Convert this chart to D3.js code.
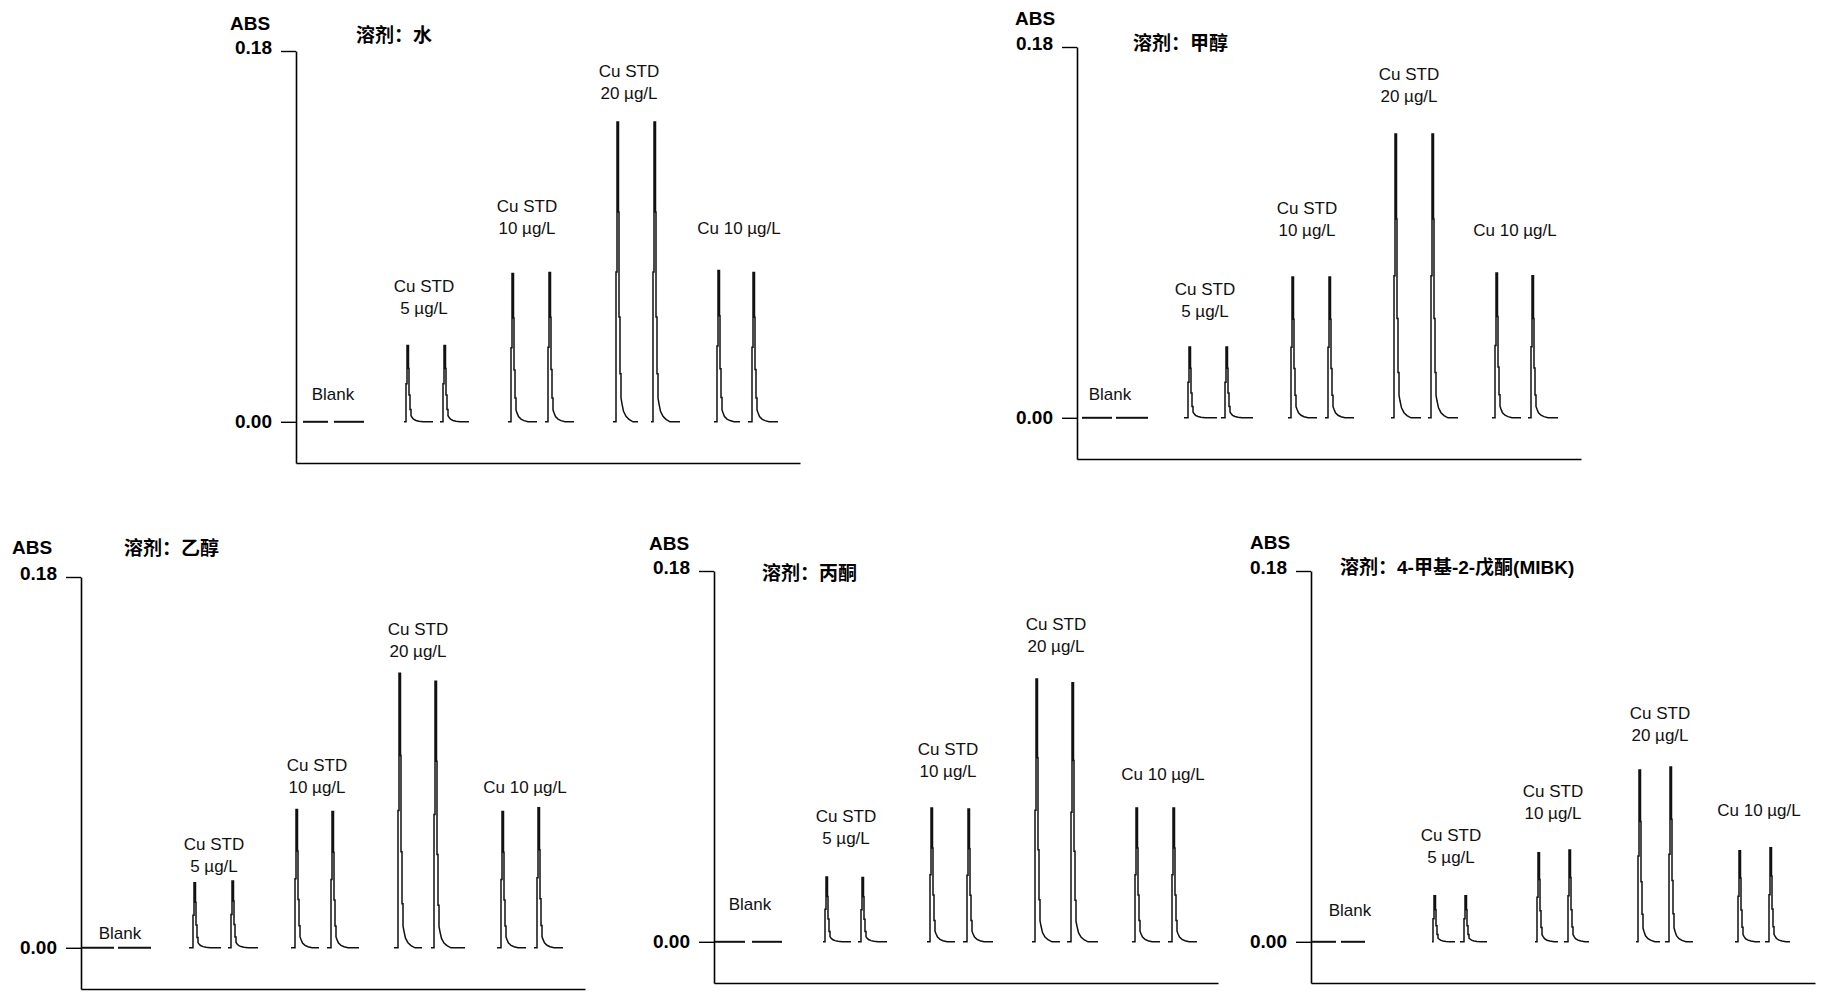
<!DOCTYPE html>
<html>
<head>
<meta charset="utf-8">
<script src="https://cdn.jsdelivr.net/npm/d3@7"></script>
<style>
  html, body { margin: 0; padding: 0; background: #fff; }
  svg { display: block; }
  .tick text { font-family: "Liberation Sans", Arial, sans-serif; font-weight: bold; font-size: 19px; fill: #000; }
</style>
</head>
<body>
<svg id="chart" width="1833" height="997"></svg>
<script>
// ---------------- DATA ----------------
const yTicks = [0, 0.18];
const solventTitles = ["溶剂：水", "溶剂：甲醇", "溶剂：乙醇", "溶剂：丙酮", "溶剂：4-甲基-2-戊酮(MIBK)"];
const sampleLabels = [["Blank"], ["Cu STD", "5 µg/L"], ["Cu STD", "10 µg/L"], ["Cu STD", "20 µg/L"], ["Cu 10 µg/L"]];

// time axis of each trace (s)
const timeDomain = [0, 50.4];

// Peak profile shape: [time after signal rise (s), fraction of peak height]
const peakProfile = [[0,0],[0,0.5],[0.1,0.5],[0.1,1],[0.25,1],[0.25,0.7],[0.3,0.7],[0.3,0.35],[0.4,0.35],[0.4,0.16],[0.5,0.16],[0.5,0.08],[0.6,0.06],[0.75,0.035],[1.0,0.018],[1.3,0.008],[1.7,0]];

// Water
const waterBlank = [[0.7, 3.2], [3.8, 6.8]];
const waterStart = [10.8, 14.4, 21.2, 24.9, 31.7, 35.5, 41.8, 45.2];
const waterRise  = [11.0, 14.7, 21.5, 25.2, 32.0, 35.7, 42.1, 45.6];
const waterEnd   = [13.7, 17.3, 24.1, 27.8, 34.2, 38.4, 44.4, 48.2];
const waterAbs   = [0.0370, 0.0370, 0.0720, 0.0725, 0.1455, 0.1455, 0.0735, 0.0725];
const waterLabelT = [3.7, 12.8, 23.1, 33.3, 44.3];
const waterLabelA = [0.0136, 0.0553, 0.0941, 0.1596, 0.0941];

// Methanol
const methanolBlank = [[0.5, 3.5], [3.9, 7.1]];
const methanolStart = [10.7, 14.4, 21.1, 24.8, 31.4, 35.1, 41.5, 45.1];
const methanolRise  = [11.1, 14.8, 21.4, 25.1, 31.7, 35.4, 41.8, 45.4];
const methanolEnd   = [14.0, 17.6, 24.0, 27.7, 34.4, 38.1, 44.4, 48.1];
const methanolAbs   = [0.0344, 0.0344, 0.0684, 0.0684, 0.1378, 0.1378, 0.0703, 0.0689];
const methanolLabelT = [3.3, 12.8, 23.0, 33.2, 43.8];
const methanolLabelA = [0.0116, 0.0519, 0.0912, 0.1562, 0.0912];

// Ethanol
const ethanolBlank = [[0.0, 3.3], [3.7, 7.0]];
const ethanolStart = [10.8, 14.7, 21.0, 24.6, 31.3, 35.0, 41.6, 45.3];
const ethanolRise  = [11.2, 15.0, 21.4, 25.0, 31.7, 35.3, 42.0, 45.6];
const ethanolEnd   = [14.0, 17.7, 23.8, 27.8, 34.1, 38.4, 44.5, 48.2];
const ethanolAbs   = [0.0316, 0.0324, 0.0671, 0.0662, 0.1333, 0.1294, 0.0662, 0.0680];
const ethanolLabelT = [3.9, 13.3, 23.6, 33.7, 44.4];
const ethanolLabelA = [0.0073, 0.0398, 0.0781, 0.1441, 0.0781];

// Acetone
const acetoneBlank = [[0.1, 3.1], [3.8, 6.8]];
const acetoneStart = [10.9, 14.4, 21.3, 24.9, 31.8, 35.3, 41.8, 45.4];
const acetoneRise  = [11.1, 14.7, 21.6, 25.3, 32.1, 35.7, 42.1, 45.8];
const acetoneEnd   = [13.7, 17.3, 24.1, 27.9, 34.6, 38.4, 44.6, 48.3];
const acetoneAbs   = [0.0315, 0.0312, 0.0650, 0.0645, 0.1276, 0.1257, 0.0650, 0.0650];
const acetoneLabelT = [3.6, 13.2, 23.4, 34.2, 44.9];
const acetoneLabelA = [0.0184, 0.0505, 0.0830, 0.1436, 0.0815];

// MIBK
const mibkBlank = [[0.0, 2.5], [3.0, 5.4]];
const mibkStart = [12.1, 14.9, 22.4, 25.3, 32.5, 35.4, 42.4, 45.4];
const mibkRise  = [12.2, 15.3, 22.6, 25.7, 32.7, 35.8, 42.7, 45.8];
const mibkEnd   = [14.4, 17.6, 24.7, 27.8, 34.9, 38.2, 44.9, 47.9];
const mibkAbs   = [0.0223, 0.0223, 0.0432, 0.0446, 0.0834, 0.0849, 0.0442, 0.0456];
const mibkLabelT = [3.9, 14.0, 24.2, 34.9, 44.8];
const mibkLabelA = [0.0155, 0.0412, 0.0626, 0.1004, 0.0640];

const series = [
  {blank: waterBlank, start: waterStart, rise: waterRise, end: waterEnd, abs: waterAbs, lt: waterLabelT, la: waterLabelA},
  {blank: methanolBlank, start: methanolStart, rise: methanolRise, end: methanolEnd, abs: methanolAbs, lt: methanolLabelT, la: methanolLabelA},
  {blank: ethanolBlank, start: ethanolStart, rise: ethanolRise, end: ethanolEnd, abs: ethanolAbs, lt: ethanolLabelT, la: ethanolLabelA},
  {blank: acetoneBlank, start: acetoneStart, rise: acetoneRise, end: acetoneEnd, abs: acetoneAbs, lt: acetoneLabelT, la: acetoneLabelA},
  {blank: mibkBlank, start: mibkStart, rise: mibkRise, end: mibkEnd, abs: mibkAbs, lt: mibkLabelT, la: mibkLabelA}
];

// ---------------- LAYOUT ----------------
const layout = [
  {ox: 296,  top: 51,  absX: 230,  absY: 23,  titleX: 356,  titleY: 35},
  {ox: 1077, top: 47,  absX: 1015, absY: 18,  titleX: 1133, titleY: 43},
  {ox: 81,   top: 577, absX: 12,   absY: 547, titleX: 124,  titleY: 548},
  {ox: 714,  top: 571, absX: 649,  absY: 543, titleX: 762,  titleY: 573},
  {ox: 1311, top: 571, absX: 1250, absY: 542, titleX: 1340, titleY: 567}
];
const axisWidth = 504;
const axisHeight = 412;   // from -0.02 to 0.18

const svg = d3.select("#chart");

series.forEach((s, i) => {
  const L = layout[i];
  const x = d3.scaleLinear().domain(timeDomain).range([L.ox, L.ox + axisWidth]);
  const y = d3.scaleLinear().domain([-0.02, 0.18]).range([L.top + axisHeight, L.top]);
  const g = svg.append("g");

  // y axis
  const ya = g.append("g")
    .attr("transform", `translate(${L.ox},0)`)
    .call(d3.axisLeft(y).tickValues(yTicks).tickFormat(d3.format(".2f")).tickSize(15).tickPadding(9).tickSizeOuter(0));
  ya.select(".domain").attr("stroke", "#000").attr("stroke-width", 1.6);
  ya.selectAll(".tick line").attr("stroke", "#000").attr("stroke-width", 1.4);
  ya.selectAll(".tick text").filter(d => d === 0.18).attr("y", -4);

  // x axis (bare line)
  const xa = g.append("g")
    .attr("transform", `translate(0,${y(-0.02)})`)
    .call(d3.axisBottom(x).tickValues([]).tickSizeOuter(0));
  xa.select(".domain").attr("stroke", "#000").attr("stroke-width", 1.6);

  // ABS label
  g.append("text").attr("x", L.absX).attr("y", L.absY).attr("dy", "0.35em")
    .style("font-family", '"Liberation Sans", Arial, sans-serif').style("font-weight", "bold").style("font-size", "19px")
    .text("ABS");

  // Title
  g.append("text").attr("x", L.titleX).attr("y", L.titleY).attr("dy", "0.36em")
    .style("font-family", '"Liberation Sans", "Noto Sans CJK SC", sans-serif').style("font-weight", "bold").style("font-size", "19px")
    .text(solventTitles[i]);

  const line = d3.line().x(d => x(d[0])).y(d => y(d[1]));

  // blank traces
  g.selectAll("path.blank").data(s.blank).join("path").attr("class", "blank")
    .attr("d", d => line([[d[0], 0], [d[1], 0]]))
    .attr("fill", "none").attr("stroke", "#111").attr("stroke-width", 2);

  // peak traces
  const peaks = s.start.map((st, k) => {
    const pts = [[st, 0], [s.rise[k], 0]];
    peakProfile.forEach(p => {
      const t = s.rise[k] + p[0];
      if (t <= s.end[k]) pts.push([t, p[1] * s.abs[k]]);
    });
    pts.push([s.end[k], 0]);
    return pts;
  });
  g.selectAll("path.peak").data(peaks).join("path").attr("class", "peak")
    .attr("d", line)
    .attr("fill", "none").attr("stroke", "#111").attr("stroke-width", 1.5).attr("stroke-linejoin", "miter");

  // sample labels
  sampleLabels.forEach((lines, k) => {
    const cx = x(s.lt[k]), cy = y(s.la[k]);
    const n = lines.length;
    lines.forEach((txt, j) => {
      g.append("text").attr("x", cx).attr("y", cy - (n - 1 - j) * 21.5).attr("dy", "0.35em")
        .attr("text-anchor", "middle")
        .style("font-family", '"Liberation Sans", Arial, sans-serif').style("font-size", "17px").style("fill", "#111")
        .text(txt);
    });
  });
});
</script>
</body>
</html>
